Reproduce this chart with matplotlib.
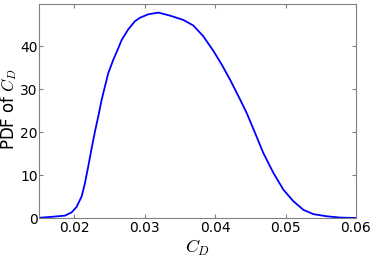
import matplotlib
matplotlib.use("Agg")
import matplotlib.pyplot as plt

cd = [0.01500, 0.01700, 0.01868, 0.01963, 0.02034, 0.02105, 0.02152, 0.02199, 0.02247, 0.02294,
      0.02341, 0.02389, 0.02436, 0.02483, 0.02554, 0.02625, 0.02673, 0.02767, 0.02862, 0.02933,
      0.03051, 0.03193, 0.03359, 0.03548, 0.03690, 0.03832, 0.03975, 0.04094, 0.04212, 0.04354,
      0.04449, 0.04567, 0.04685, 0.04827, 0.04969, 0.05111, 0.05253, 0.05395, 0.05585, 0.05774,
      0.06000]
pdf = [0.05, 0.3, 0.55, 1.3, 2.6, 5.0, 8.1, 12.0, 16.2, 20.1,
       23.6, 27.5, 30.6, 33.7, 36.8, 39.5, 41.4, 43.9, 45.8, 46.6,
       47.4, 47.8, 47.1, 46.1, 44.8, 42.3, 38.9, 35.7, 32.2, 27.6,
       24.4, 19.8, 15.1, 10.5, 6.6, 3.9, 1.9, 0.9, 0.4, 0.1,
       0.0]

plt.rcParams['mathtext.fontset'] = 'cm'
fig = plt.figure(figsize=(3.74, 2.6), dpi=100)
ax = fig.add_axes([39/374, 1 - 218/260, (356-39)/374, (218-4)/260])
ax.plot(cd, pdf, color='#0000ff', lw=1.3)
ax.set_xlim(0.015, 0.06)
ax.set_ylim(0, 49.8)
ax.set_xticks([0.02, 0.03, 0.04, 0.05, 0.06])
ax.set_xticklabels(['0.02', '0.03', '0.04', '0.05', '0.06'])
ax.set_yticks([0, 10, 20, 30, 40])
for s in ax.spines.values():
    s.set_color('#808080')
ax.tick_params(direction='in', length=3, color='#808080', labelsize=10,
               top=True, right=True)
ax.tick_params(axis='x', pad=2)
ax.tick_params(axis='y', pad=1)
ax.set_xlabel(r'$C_D$', fontsize=13, labelpad=2)
ax.set_ylabel(r'PDF of $C_D$', fontsize=12)
ax.yaxis.set_label_coords(-0.062, 0.51)
fig.savefig('out.png', dpi=100)
